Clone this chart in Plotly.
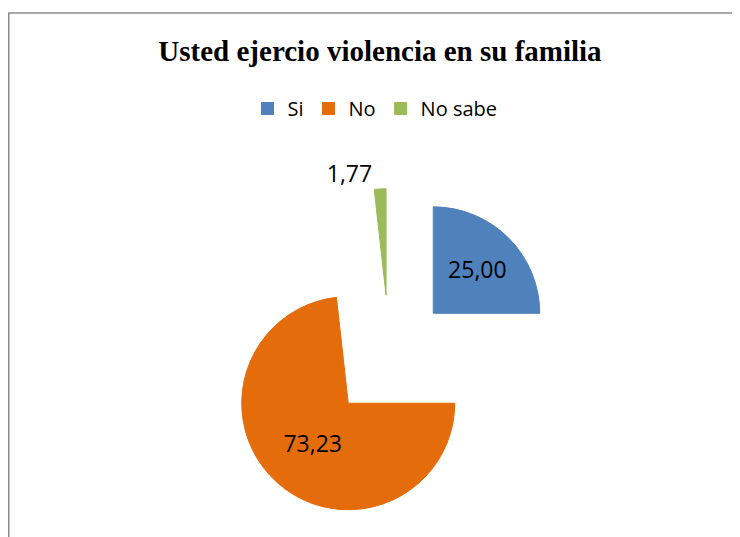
import plotly.graph_objects as go

labels = ["Si", "No", "No sabe"]
values = [25.00, 73.23, 1.77]
colors = ["#4F81BD", "#E46C0A", "#9BBB59"]
title_text = "Usted ejercio violencia en su familia"

W, H = 740, 537
# pie box in figure pixels: center (381.5, 349.1), half-size 168.4
cx, cy, half = 381.5, 349.1, 168.4

fig = go.Figure(go.Pie(
    labels=labels,
    values=values,
    sort=False,
    direction="clockwise",
    rotation=0,
    pull=[0.581, 0.581, 0.581],
    marker=dict(colors=colors, line=dict(width=1, color=colors)),
    texttemplate="%{value:.2f}",
    textposition=["inside", "inside", "outside"],
    insidetextorientation="horizontal",
    textfont=dict(family="Open Sans", size=23, color="#000000"),
    outsidetextfont=dict(family="Open Sans", size=23, color="#000000"),
    hoverinfo="label+value",
    automargin=False,
    domain=dict(x=[(cx - half) / W, (cx + half) / W],
                y=[1 - (cy + half) / H, 1 - (cy - half) / H]),
))

fig.update_layout(
    width=W, height=H,
    separators=",.",
    margin=dict(l=0, r=0, t=0, b=0, autoexpand=False),
    paper_bgcolor="white",
    plot_bgcolor="white",
    title=dict(text="<b>" + title_text + "</b>",
               font=dict(family="Liberation Serif", size=29, color="#000000"),
               x=372 / W, xanchor="center", y=1 - 42.5 / H, yanchor="middle"),
    showlegend=True,
    legend=dict(orientation="h", x=367 / W, xanchor="center",
                y=1 - 100.5 / H, yanchor="middle",
                font=dict(family="Open Sans", size=20, color="#000000"),
                itemwidth=30, traceorder="normal", bgcolor="rgba(0,0,0,0)"),
    shapes=[dict(type="rect", xref="paper", yref="paper",
                 x0=0.75 / W, y0=-0.05, x1=1.05, y1=1 - 5 / H,
                 line=dict(color="#8C8C8C", width=1.5), fillcolor="rgba(0,0,0,0)")],
)

fig.write_html("out.html")
